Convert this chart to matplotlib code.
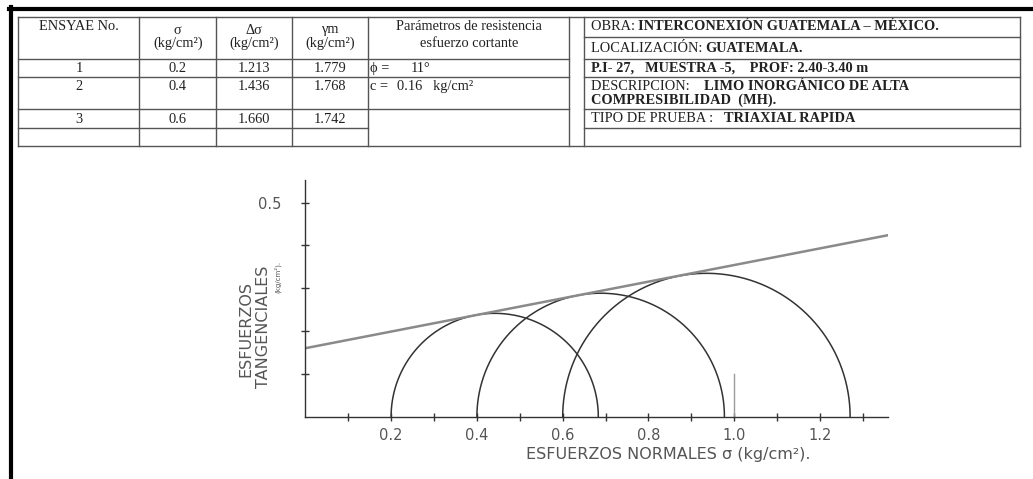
import numpy as np
import matplotlib
matplotlib.use("Agg")
import matplotlib.pyplot as plt
from matplotlib.lines import Line2D

# Ensayos triaxiales (tabla)
ensayo = ["1", "2", "3"]
sigma_tab = ["0.2", "0.4", "0.6"]
delta_tab = ["1.213", "1.436", "1.660"]
gamma_tab = ["1.779", "1.768", "1.742"]

# Circulos de Mohr
sigma3 = [0.2, 0.4, 0.6]
sigma1 = [0.683, 0.977, 1.270]

# Envolvente de falla
phi_deg = 11
cohesion = 0.16

W, H = 1033, 479
fig = plt.figure(figsize=(W / 100, H / 100), dpi=100)


def fx(x):
    return x / W


def fy(y):
    return 1 - y / H


def hline(y, x0, x1, color="#555555", lw=1.0):
    fig.add_artist(Line2D([fx(x0), fx(x1)], [fy(y), fy(y)], color=color, lw=lw))


def vline(x, y0, y1, color="#555555", lw=1.0):
    fig.add_artist(Line2D([fx(x), fx(x)], [fy(y0), fy(y1)], color=color, lw=lw))


# marco de la hoja
hline(8.5, 9, W, color="black", lw=3)
vline(10.5, 7, H, color="black", lw=3)

# tabla
top, bot = 17.3, 145.7
hline(top, 18.3, 1020)
hline(bot, 18.3, 1020)
for x in [18.3, 139.3, 216, 291.7, 368.3, 569, 584, 1020]:
    vline(x, top, bot)
for y in [59, 76.7, 109.3]:
    hline(y, 18.3, 569)
hline(127.7, 18.3, 368.3)
for y in [36.7, 59, 76.7, 109.3, 127.7]:
    hline(y, 584, 1020)

serif = "Liberation Serif"
fs = 10.4
tc = "#222222"


def cell(x, y, s, ha="center"):
    fig.text(fx(x), fy(y), s, ha=ha, va="center", family=serif, fontsize=fs, color=tc)


cell(78.8, 27, "ENSYAE No.")
cell(177.7, 30, "σ")
cell(177.7, 43.3, "(kg/cm²)")
cell(253.8, 30, "Δσ")
cell(253.8, 43.3, "(kg/cm²)")
cell(330, 30, "γm")
cell(330, 43.3, "(kg/cm²)")
cell(468.7, 26, "Parámetros de resistencia")
cell(468.7, 43.3, "esfuerzo cortante")

row_y = [68.3, 86.7, 119.3]
for i in range(3):
    cell(78.8, row_y[i], ensayo[i])
    cell(177.7, row_y[i], sigma_tab[i])
    cell(253.8, row_y[i], delta_tab[i])
    cell(330, row_y[i], gamma_tab[i])

cell(370, 68.3, "ϕ =", ha="left")
cell(411, 68.3, f"{phi_deg}°", ha="left")
cell(370, 86.7, "c =", ha="left")
cell(397, 86.7, f"{cohesion:.2f}   kg/cm²", ha="left")

# ejes del grafico
ax = fig.add_axes([305.3 / W, (H - 416.7) / H, 583 / W, 236.7 / H])
xmax, ymax = 1.359, 0.553
ax.set_xlim(0, xmax)
ax.set_ylim(0, ymax)


def mixed(x, y, parts):
    # texto con partes normales y en negrita, una a continuacion de otra
    s, b = parts[0]
    prev = fig.text(fx(x), fy(y), s, ha="left", va="center", family=serif,
                    fontsize=fs, color=tc, weight="bold" if b else "normal")
    for s, b in parts[1:]:
        prev = ax.annotate(s, xy=(1, 0), xycoords=prev, ha="left", va="bottom",
                           family=serif, fontsize=fs, color=tc,
                           weight="bold" if b else "normal", annotation_clip=False)


t = np.linspace(0, np.pi, 300)
for s3, s1 in zip(sigma3, sigma1):
    cen = (s3 + s1) / 2
    r = (s1 - s3) / 2
    ax.plot(cen + r * np.cos(t), r * np.sin(t), color="#333333", lw=1.1)

xs = np.array([0, xmax])
ax.plot(xs, cohesion + np.tan(np.radians(phi_deg)) * xs, color="#8a8a8a", lw=1.8)
ax.plot([1.0, 1.0], [0, 0.1], color="#9a9a9a", lw=1)

for sp in ["top", "right"]:
    ax.spines[sp].set_visible(False)
for sp in ["left", "bottom"]:
    ax.spines[sp].set_color("#333333")
    ax.spines[sp].set_linewidth(1)

xt = np.round(np.arange(0.1, 1.35, 0.1), 1)
ax.set_xticks(xt)
ax.set_xticklabels([f"{v:.1f}" if round(v * 10) % 2 == 0 else "" for v in xt])
yt = np.round(np.arange(0.1, 0.55, 0.1), 1)
ax.set_yticks(yt)
ax.set_yticklabels(["" if v < 0.5 else "0.5" for v in yt])
ax.tick_params(direction="inout", length=6, width=1, color="#333333",
               labelsize=10.5, labelcolor="#555555")
ax.tick_params(axis="x", pad=5)
ax.tick_params(axis="y", pad=14)

fig.text(fx(668), fy(455), "ESFUERZOS NORMALES σ (kg/cm²).", ha="center",
         va="center", fontsize=11.5, color="#555555")
fig.text(fx(246), fy(329), "ESFUERZOS", rotation=90, ha="center", va="center",
         fontsize=11.5, color="#555555")
fig.text(fx(264), fy(327), "TANGENCIALES", rotation=90, ha="center", va="center",
         fontsize=11.5, color="#555555")
fig.text(fx(278), fy(277), "(kg/cm²).", rotation=90, ha="center", va="center",
         fontsize=5, color="#555555")

mixed(590.7, 26, [("OBRA: ", False), ("INTERCONEXIÓN GUATEMALA – MÉXICO.", True)])
mixed(590.7, 48.3, [("LOCALIZACIÓN: ", False), ("GUATEMALA.", True)])
mixed(590.7, 68.3, [("P.I- 27,   MUESTRA -5,    PROF: 2.40-3.40 m", True)])
mixed(590.7, 86, [("DESCRIPCION:    ", False), ("LIMO INORGÁNICO DE ALTA", True)])
mixed(590.7, 100, [("COMPRESIBILIDAD  (MH).", True)])
mixed(590.7, 118.3, [("TIPO DE PRUEBA :   ", False), ("TRIAXIAL RAPIDA", True)])

fig.savefig("out.png", dpi=100)
